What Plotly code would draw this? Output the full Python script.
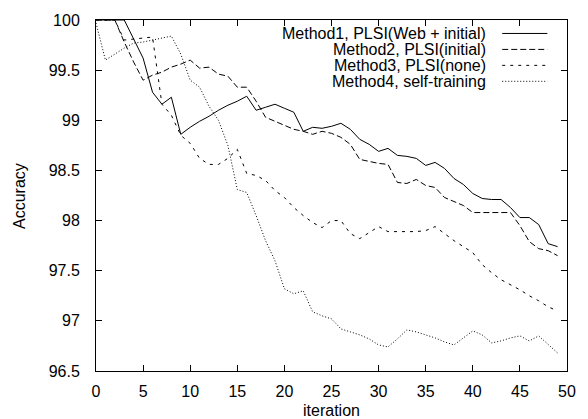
import plotly.graph_objects as go

iterations = list(range(50))

method1 = [100, 100, 100, 100, 99.81, 99.62, 99.28, 99.16, 99.23, 98.86,
           98.93, 98.99, 99.04, 99.10, 99.15, 99.19, 99.24, 99.10, 99.13, 99.16,
           99.12, 99.08, 98.89, 98.93, 98.92, 98.94, 98.97, 98.91, 98.81, 98.76,
           98.69, 98.72, 98.65, 98.64, 98.62, 98.55, 98.58, 98.52, 98.42, 98.36,
           98.27, 98.22, 98.21, 98.21, 98.13, 98.03, 98.03, 97.96, 97.77, 97.74]
method2 = [100, 100, 100, 99.78, 99.58, 99.40, 99.45, 99.48, 99.53, 99.56,
           99.60, 99.52, 99.53, 99.46, 99.44, 99.33, 99.33, 99.19, 99.03, 98.99,
           98.95, 98.91, 98.89, 98.86, 98.89, 98.87, 98.83, 98.76, 98.61, 98.59,
           98.57, 98.56, 98.38, 98.37, 98.41, 98.35, 98.33, 98.23, 98.19, 98.15,
           98.08, 98.08, 98.08, 98.08, 98.08, 97.95, 97.79, 97.72, 97.70, 97.65]
method3 = [100, 100, 100, 99.80, 99.81, 99.82, 99.83, 99.16, 99.05, 98.85,
           98.77, 98.62, 98.56, 98.56, 98.62, 98.71, 98.47, 98.45, 98.40, 98.30,
           98.23, 98.13, 98.05, 97.98, 97.93, 98.00, 98.00, 97.87, 97.82, 97.88,
           97.94, 97.89, 97.89, 97.89, 97.89, 97.90, 97.94, 97.87, 97.80, 97.74,
           97.68, 97.56, 97.48, 97.41, 97.36, 97.31, 97.25, 97.20, 97.14, 97.10]
method4 = [99.97, 99.60, 99.66, 99.72, 99.77, 99.78, 99.80, 99.82, 99.84, 99.66,
           99.40, 99.33, 99.14, 99.00, 98.75, 98.31, 98.28, 98.05, 97.80, 97.60,
           97.32, 97.27, 97.30, 97.09, 97.05, 97.02, 96.92, 96.89, 96.86, 96.82,
           96.76, 96.74, 96.82, 96.91, 96.89, 96.86, 96.83, 96.79, 96.76, 96.83,
           96.90, 96.86, 96.78, 96.80, 96.83, 96.85, 96.80, 96.85, 96.76, 96.68]

names = ["Method1, PLSI(Web + initial)", "Method2, PLSI(initial)",
         "Method3, PLSI(none)", "Method4, self-training"]
dashes = ["solid", "6px,3px", "3px,5px", "1px,2px"]
series = [method1, method2, method3, method4]

x_ticks = [0, 5, 10, 15, 20, 25, 30, 35, 40, 45, 50]
y_ticks = [96.5, 97, 97.5, 98, 98.5, 99, 99.5, 100]
y_tick_text = ["96.5", "97", "97.5", "98", "98.5", "99", "99.5", "100"]

FONT = "Liberation Sans, Arial, sans-serif"
FS = 16

fig = go.Figure()
for vals, nm, d in zip(series, names, dashes):
    fig.add_trace(go.Scatter(x=iterations, y=vals, mode="lines", name=nm,
                             line=dict(color="black", width=1, dash=d),
                             showlegend=False))

# gnuplot-style legend: right-aligned text with sample line to the right
leg_y = [32.5, 48.5, 64.5, 80.5]  # pixel rows
plot_top, plot_bot, plot_left, plot_w = 19, 371, 96, 480
for nm, d, py in zip(names, dashes, leg_y):
    yp = (plot_bot - py) / (plot_bot - plot_top)
    fig.add_annotation(x=(495 - plot_left) / plot_w, y=yp, xref="paper", yref="paper",
                       text=nm, showarrow=False, xanchor="right", yanchor="middle",
                       font=dict(family=FONT, size=FS, color="black"))
    fig.add_shape(type="line", xref="paper", yref="paper",
                  x0=(510 - plot_left) / plot_w, x1=(556 - plot_left) / plot_w,
                  y0=yp, y1=yp, line=dict(color="black", width=1, dash=d))

fig.add_annotation(x=(18 - plot_left) / plot_w, y=0.5, xref="paper", yref="paper",
                   text="Accuracy", textangle=-90, showarrow=False,
                   xanchor="center", yanchor="middle",
                   font=dict(family=FONT, size=FS, color="black"))
fig.add_annotation(x=0.5, y=(plot_bot - 411) / (plot_bot - plot_top), xref="paper", yref="paper",
                   text="iteration", showarrow=False,
                   xanchor="center", yanchor="middle",
                   font=dict(family=FONT, size=FS, color="black"))

axis_common = dict(showline=True, linecolor="black", linewidth=1, mirror="ticks",
                   ticks="inside", ticklen=6, tickcolor="black", tickwidth=1,
                   showgrid=False, zeroline=False,
                   tickfont=dict(family=FONT, size=FS, color="black"))

fig.update_layout(
    width=588, height=419,
    margin=dict(l=96, r=12, t=19, b=48),
    paper_bgcolor="white", plot_bgcolor="white",
    xaxis=dict(range=[0, 50], tickvals=x_ticks, ticklabelstandoff=6, **axis_common),
    yaxis=dict(range=[96.5, 100], tickvals=y_ticks, ticktext=y_tick_text,
               ticklabelstandoff=12, **axis_common),
)

fig.write_html("out.html", config={"displayModeBar": False},
               post_script="document.body.style.margin='0';document.body.style.overflow='hidden';")
